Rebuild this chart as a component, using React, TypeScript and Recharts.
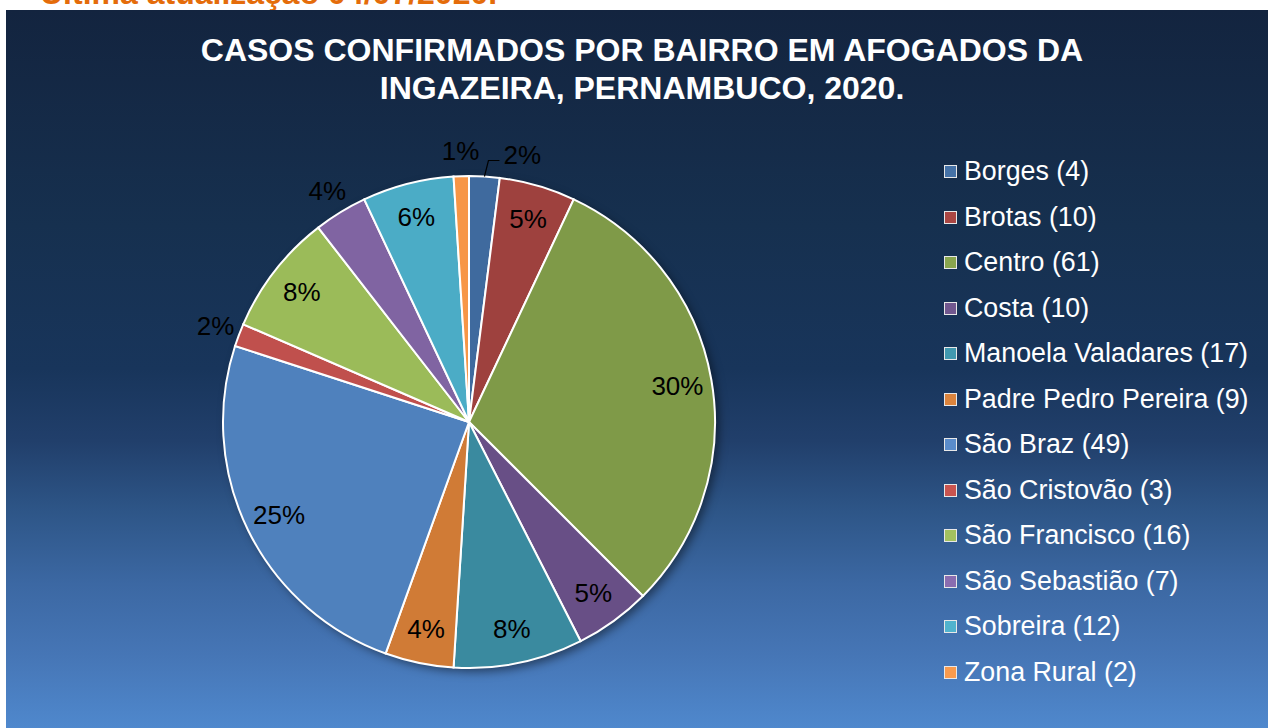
import React from 'react';
import { PieChart, Pie, Cell, Legend } from 'recharts';

const bairros = [
  'Borges', 'Brotas', 'Centro', 'Costa', 'Manoela Valadares', 'Padre Pedro Pereira',
  'São Braz', 'São Cristovão', 'São Francisco', 'São Sebastião', 'Sobreira', 'Zona Rural',
];
const casos = [4, 10, 61, 10, 17, 9, 49, 3, 16, 7, 12, 2];
const percentLabels = ['2%', '5%', '30%', '5%', '8%', '4%', '25%', '2%', '8%', '4%', '6%', '1%'];
const sliceColors = [
  '#3f6a9e', '#9e413e', '#7f9a48', '#684f86', '#3a8a9f', '#d07b36',
  '#4f81bd', '#c0504d', '#9bbb59', '#8064a2', '#4bacc6', '#f79646',
];
const legendColors = [
  '#4572a7', '#aa4643', '#89a54e', '#71588f', '#4198af', '#db843d',
  '#5a8ccb', '#c9544f', '#a3c15f', '#8a6db0', '#50b3ce', '#f99b4e',
];
const titleLines = ['CASOS CONFIRMADOS POR BAIRRO EM AFOGADOS DA', 'INGAZEIRA, PERNAMBUCO, 2020.'];
const updateNote = 'Última atualização 04/07/2020.';

const data = bairros.map((name, i) => ({ name, value: casos[i] }));
const total = casos.reduce((a, b) => a + b, 0);

const FONT = '"Liberation Sans", Arial, sans-serif';
const RAD = Math.PI / 180;

const renderLabel = (props: any) => {
  const { cx, cy, midAngle, outerRadius, index } = props;
  const share = casos[index] / total;
  const cos = Math.cos(-midAngle * RAD);
  const sin = Math.sin(-midAngle * RAD);
  const txt = percentLabels[index];
  if (index === 0) {
    const x0 = cx + outerRadius * cos;
    const y0 = cy + outerRadius * sin;
    const x1 = cx + (outerRadius + 16) * cos + 3;
    const y1 = cy + (outerRadius + 16) * sin;
    const x2 = x1 + 11;
    return (
      <g key={`l${index}`}>
        <polyline points={`${x0},${y0} ${x1},${y1} ${x2},${y1}`} fill="none" stroke="#000" strokeWidth={1.2} />
        <text x={x2 + 4} y={y1 - 6} fill="#000" fontSize={26} fontFamily={FONT} textAnchor="start" dominantBaseline="central">
          {txt}
        </text>
      </g>
    );
  }
  const r = share < 0.04 ? outerRadius + 25 : outerRadius * 0.86;
  const x = cx + r * cos;
  const y = cy + r * sin;
  return (
    <text key={`l${index}`} x={x} y={y} fill="#000" fontSize={26} fontFamily={FONT} textAnchor="middle" dominantBaseline="central">
      {txt}
    </text>
  );
};

const renderLegend = () => (
  <div style={{ fontFamily: FONT }}>
    {bairros.map((b, i) => (
      <div key={b} style={{ display: 'flex', alignItems: 'center', height: 45.5 }}>
        <div
          style={{
            width: 11,
            height: 11,
            background: legendColors[i],
            border: '1.5px solid #e8e8e8',
            marginRight: 7,
          }}
        />
        <span style={{ color: '#fff', fontSize: 26.8, whiteSpace: 'nowrap' }}>
          {b} ({casos[i]})
        </span>
      </div>
    ))}
  </div>
);

export default function App() {
  return (
    <div
      style={{
        position: 'absolute',
        left: 0,
        top: 0,
        width: 1268,
        height: 728,
        background: '#fff',
        overflow: 'hidden',
        fontFamily: FONT,
      }}
    >
      <style>{`.shadow-pie { filter: blur(3px); }`}</style>
      <svg width={1268} height={10} style={{ position: 'absolute', left: 0, top: 0 }}>
        <text x={40} y={4} fill="#e46c0a" fontSize={32} fontWeight="bold" fontFamily={FONT}>
          {updateNote}
        </text>
      </svg>
      <div
        style={{
          position: 'absolute',
          left: 6,
          top: 10,
          width: 1262,
          height: 718,
          background:
            'linear-gradient(to bottom, #13243f 0%, #16304f 30%, #18355b 50%, #213f6b 60%, #2e5688 70%, #3c68a3 80%, #4676b6 90%, #4f88cd 100%)',
        }}
      >
        <svg width={1262} height={110} style={{ position: 'absolute', left: 0, top: 0 }}>
          {titleLines.map((t, i) => (
            <text
              key={t}
              x={636}
              y={40 + i * 38}
              fill="#fff"
              fontSize={32}
              fontWeight="bold"
              fontFamily={FONT}
              textAnchor="middle"
              dominantBaseline="central"
            >
              {t}
            </text>
          ))}
        </svg>
        <div style={{ position: 'absolute', left: 0, top: 0 }}>
          <PieChart width={1262} height={718} margin={{ top: 0, right: 0, bottom: 0, left: 0 }}>
            <Pie
              data={data}
              dataKey="value"
              nameKey="name"
              cx={467}
              cy={416}
              outerRadius={246}
              startAngle={90}
              endAngle={-270}
              fill="#000"
              fillOpacity={0.45}
              stroke="none"
              className="shadow-pie"
              isAnimationActive={false}
              label={false}
              legendType="none"
            />
            <Pie
              data={data}
              dataKey="value"
              nameKey="name"
              cx={463}
              cy={412}
              outerRadius={246}
              startAngle={90}
              endAngle={-270}
              stroke="#fff"
              strokeWidth={2}
              isAnimationActive={false}
              label={renderLabel}
              labelLine={false}
            >
              {data.map((d, i) => (
                <Cell key={d.name} fill={sliceColors[i]} />
              ))}
            </Pie>
            <Legend
              content={renderLegend}
              layout="vertical"
              align="right"
              verticalAlign="top"
              wrapperStyle={{ left: 938, top: 139, width: 320 }}
            />
          </PieChart>
        </div>
      </div>
    </div>
  );
}
